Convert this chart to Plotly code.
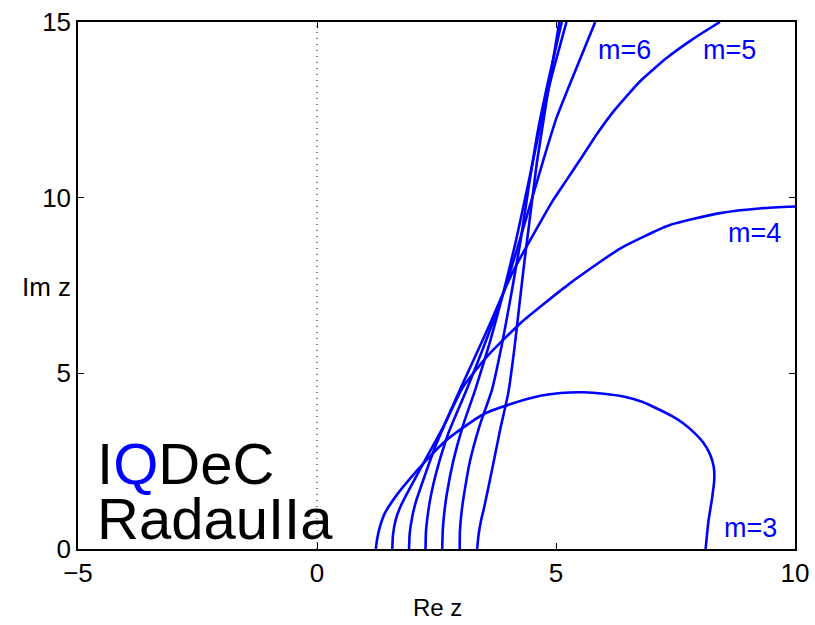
import plotly.graph_objects as go

# ---- data (Re z, Im z) ----
m3_re = [1.23, 1.26, 1.32, 1.42, 1.67, 1.95, 2.29, 2.71, 2.99, 3.50, 4.04, 4.67, 5.10, 5.57, 6.00, 6.41, 6.80, 7.11, 7.42, 7.66, 7.90, 8.08, 8.22, 8.30, 8.31, 8.26, 8.19, 8.13]
m3_im = [0.00, 0.30, 0.65, 1.02, 1.54, 2.01, 2.53, 3.10, 3.39, 3.85, 4.12, 4.36, 4.44, 4.46, 4.42, 4.34, 4.19, 4.00, 3.79, 3.58, 3.30, 3.03, 2.70, 2.34, 1.95, 1.40, 0.80, 0.00]

m4_re = [1.575, 1.59, 1.65, 1.76, 1.95, 2.25, 2.65, 3.06, 3.55, 4.25, 5.29, 6.34, 7.38, 8.43, 9.30, 10.0]
m4_im = [0.00, 0.40, 0.85, 1.25, 1.75, 2.50, 3.50, 4.62, 5.47, 6.42, 7.56, 8.55, 9.22, 9.56, 9.70, 9.75]

m5_re = [1.925, 1.94, 1.99, 2.07, 2.22, 2.50, 2.99, 3.55, 4.10, 4.70, 4.94, 5.22, 5.50, 5.85, 6.20, 6.75, 7.32, 7.87, 8.43]
m5_im = [0.00, 0.45, 0.90, 1.35, 1.95, 3.00, 4.53, 6.20, 7.90, 9.37, 9.93, 10.5, 11.07, 11.8, 12.45, 13.3, 13.98, 14.52, 15.0]

m6_re = [2.27, 2.28, 2.32, 2.38, 2.50, 2.75, 3.13, 3.50, 3.90, 4.20, 4.46, 4.72, 5.01, 5.40, 5.82]
m6_im = [0.00, 0.50, 1.00, 1.50, 2.20, 3.30, 4.53, 5.80, 7.30, 8.60, 9.80, 11.0, 12.27, 13.6, 15.0]

m7_re = [2.62, 2.63, 2.66, 2.72, 2.85, 3.05, 3.31, 3.62, 3.90, 4.15, 4.42, 4.65, 4.90, 5.22]
m7_im = [0.00, 0.50, 1.00, 1.60, 2.50, 3.50, 4.53, 5.90, 7.30, 8.70, 10.4, 11.9, 13.4, 15.0]

m8_re = [2.985, 2.99, 3.02, 3.07, 3.20, 3.40, 3.66, 3.88, 4.07, 4.25, 4.44, 4.62, 4.85, 5.12]
m8_im = [0.00, 0.50, 1.00, 1.50, 2.50, 3.50, 4.53, 5.90, 7.30, 8.70, 10.4, 11.9, 13.4, 15.0]

m9_re = [3.35, 3.38, 3.43, 3.50, 3.69, 3.83, 4.00, 4.12, 4.23, 4.35, 4.48, 4.60, 4.75, 4.90, 5.07]
m9_im = [0.00, 0.40, 0.80, 1.20, 2.44, 3.39, 4.43, 5.60, 6.90, 8.30, 9.70, 11.0, 12.3, 13.6, 15.0]

curves = [(m3_re, m3_im), (m4_re, m4_im), (m5_re, m5_im), (m6_re, m6_im),
          (m7_re, m7_im), (m8_re, m8_im), (m9_re, m9_im)]

curve_labels = ["m=3", "m=4", "m=5", "m=6"]
label_re = [9.06, 9.16, 8.64, 6.44]
label_im = [0.60, 9.00, 14.2, 14.2]

x_ticks = [-5, 0, 5, 10]
y_ticks = [0, 5, 10, 15]

FONT = "Liberation Sans, Arial, Helvetica, sans-serif"
BLUE = "#0000ff"

W, H = 815, 625
L, R, T, B = 78, 20, 22, 76
pw, ph = W - L - R, H - T - B


def px2paper(px, py):
    return (px - L) / pw, 1 - (py - T) / ph


fig = go.Figure()
for re, im in curves:
    fig.add_trace(go.Scatter(x=re, y=im, mode="lines",
                             line=dict(color=BLUE, width=2.6, shape="spline", smoothing=0.5),
                             showlegend=False, hoverinfo="skip"))

# dotted imaginary axis
fig.add_shape(type="line", x0=0, x1=0, y0=0, y1=15, xref="x", yref="y",
              line=dict(color="black", width=1, dash="1px,5px"))

for t, xr, yi in zip(curve_labels, label_re, label_im):
    fig.add_annotation(x=xr, y=yi, text=t, showarrow=False, xanchor="center", yanchor="middle",
                       font=dict(family=FONT, size=27, color=BLUE))

ax, ay = px2paper(95, 485)
fig.add_annotation(x=ax, y=ay, xref="paper", yref="paper", text="I<span style='color:#0000ff'>Q</span>DeC",
                   showarrow=False, xanchor="left", yanchor="bottom", yshift=-13,
                   font=dict(family=FONT, size=58, color="black"))
ax, ay = px2paper(95, 540)
fig.add_annotation(x=ax, y=ay, xref="paper", yref="paper", text="RadauIIa",
                   showarrow=False, xanchor="left", yanchor="bottom", yshift=-13,
                   font=dict(family=FONT, size=58, color="black"))

ax, ay = px2paper(437, 607)
fig.add_annotation(x=ax, y=ay, xref="paper", yref="paper", text="Re z",
                   showarrow=False, xanchor="center", yanchor="middle", font=dict(family=FONT, size=24))
ax, ay = px2paper(73, 287)
fig.add_annotation(x=ax, y=ay, xref="paper", yref="paper", text="Im z",
                   showarrow=False, xanchor="right", yanchor="middle", font=dict(family=FONT, size=26))

axis_common = dict(showline=True, linecolor="black", linewidth=1.5, mirror="ticks", ticks="inside",
                   ticklen=6, tickwidth=1, tickcolor="black", showgrid=False, zeroline=False,
                   automargin=False, tickfont=dict(family=FONT, size=26, color="black"))
fig.update_xaxes(range=[-5, 10], tickvals=x_ticks, **axis_common)
fig.update_yaxes(range=[0, 15], tickvals=y_ticks, **axis_common)

fig.update_layout(width=W, height=H, margin=dict(l=L, r=R, t=T, b=B, autoexpand=False),
                  plot_bgcolor="white", paper_bgcolor="white",
                  font=dict(family=FONT, color="black"))

fig.write_html("out.html")
